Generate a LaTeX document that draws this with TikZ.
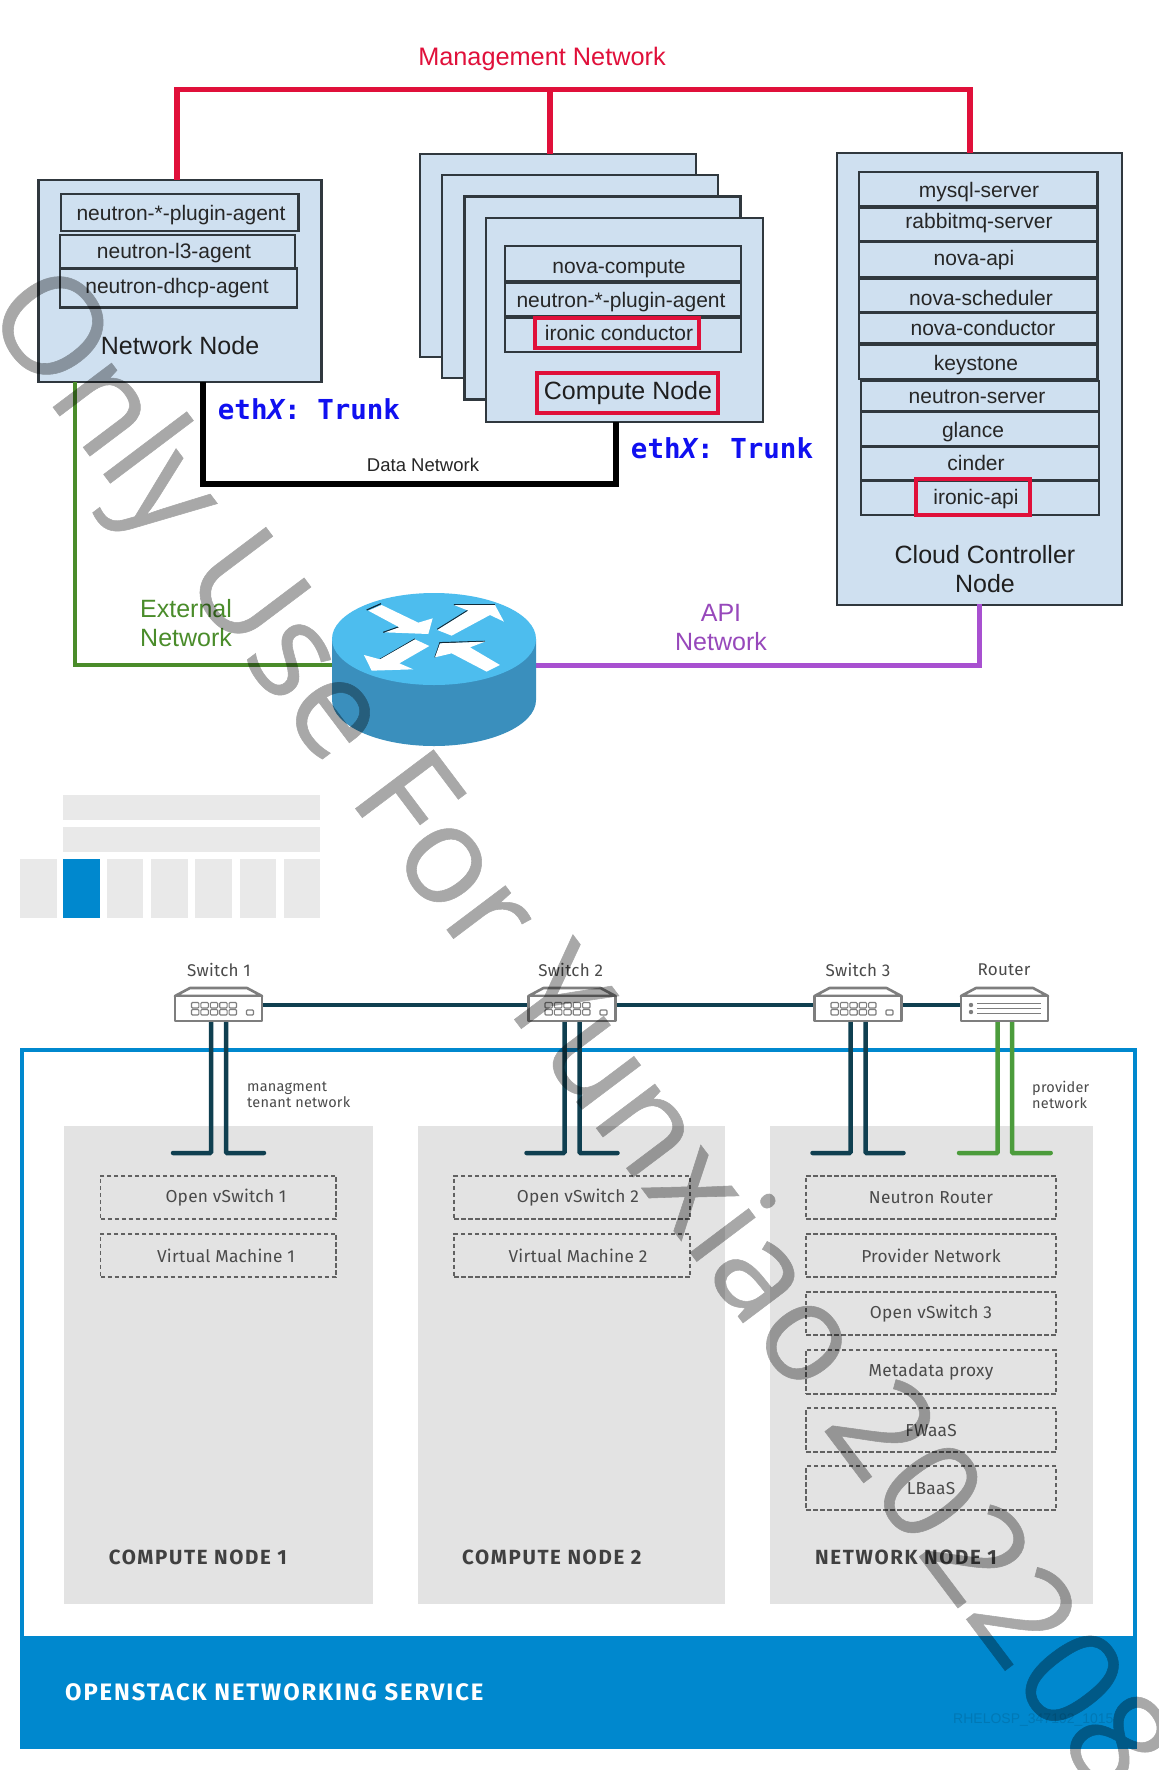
\documentclass[tikz,border=0pt]{standalone}
\usepackage{fontspec}
\setmainfont{Liberation Sans}
\newfontfamily\ofont[LetterSpace=1.5]{Fira Sans}
\newfontfamily\obfont[LetterSpace=8]{Fira Sans Medium}[BoldFont={Fira Sans Bold}]
\newfontfamily\mfont{DejaVu Sans Mono}
\newfontfamily\wfont[FakeBold=0.4]{Open Sans}
\usetikzlibrary{calc}
\definecolor{mgmtred}{HTML}{E0103A}
\definecolor{panelblue}{HTML}{CFE0F0}
\definecolor{edgegray}{HTML}{30383E}
\definecolor{trunkblue}{HTML}{1010F0}
\definecolor{extgreen}{HTML}{4A8C2A}
\definecolor{apipurple}{HTML}{A850D0}
\definecolor{rtop}{HTML}{4DBDEE}
\definecolor{rside}{HTML}{3A8FBD}
\definecolor{rhblue}{HTML}{0088CE}
\definecolor{gstrip}{HTML}{E9E9E9}
\definecolor{gpanel}{HTML}{E3E3E3}
\definecolor{darkteal}{HTML}{0F3F50}
\definecolor{swgray}{HTML}{7E7E7E}
\definecolor{txtgray}{HTML}{4A4A4A}
\definecolor{provgreen}{HTML}{4C9C3C}
\tikzset{
  x=1pt,y=-1pt,
  pbox/.style={draw=edgegray,line width=2.4pt,fill=panelblue},
  rowbox/.style={draw=edgegray,line width=2.4pt},
  redbox/.style={draw=mgmtred,line width=3.2pt},
  lab/.style={font=\fontsize{21}{24}\selectfont,text=black!85,inner sep=0pt},
  bigl/.style={font=\fontsize{25}{29}\selectfont,text=black!88,inner sep=0pt,align=center},
  trunk/.style={font=\mfont\bfseries\fontsize{27.5}{30}\selectfont,text=trunkblue,inner sep=0pt},
  mline/.style={draw=mgmtred,line width=5.5pt},
  dline/.style={draw=black,line width=5.5pt},
  gline/.style={draw=extgreen,line width=4.5pt},
  vline/.style={draw=apipurple,line width=5pt},
  tline/.style={draw=darkteal,line width=4.5pt,line cap=round,rounded corners=1pt},
  pline/.style={draw=provgreen,line width=4.5pt,line cap=round,rounded corners=1pt},
  swlab/.style={font=\ofont\fontsize{17}{20}\selectfont,text=txtgray,inner sep=0pt},
  dbox/.style={draw=black!62,dash pattern=on 4.5pt off 2.5pt,line width=1.9pt},
  dlab/.style={font=\ofont\fontsize{17.3}{20}\selectfont,text=txtgray,inner sep=0pt},
  nlab/.style={font=\obfont\bfseries\fontsize{20.5}{24}\selectfont,text=black!75,inner sep=0pt,anchor=west},
  swbody/.style={draw=swgray,line width=2.6pt,fill=white,line join=round},
  rarrow/.style={fill=white,draw=none},
}
\newcommand{\swbox}[1]{% centre x
  \draw[swbody] (#1-43.5,996) -- ++(15,-8) -- ++(57,0) -- ++(15,8) -- cycle;
  \draw[swbody] (#1-43.5,996) rectangle (#1+43.5,1021);
}
\newcommand{\swports}[1]{%
  \foreach \i in {0,1,2,3,4}{
    \draw[swgray,line width=1.1pt,fill=white,rounded corners=1pt] (#1-27+\i*9.4,1002.5) rectangle ++(7.4,5.5);
    \draw[swgray,line width=1.1pt,fill=white,rounded corners=1pt] (#1-27+\i*9.4,1009.5) rectangle ++(7.4,5.5);
  }
  \draw[swgray,line width=1.2pt,rounded corners=1pt] (#1+28,1010) rectangle ++(7,5);
}
\begin{document}
\begin{tikzpicture}
\useasboundingbox (0,0) rectangle (1159,1770);
\fill[white] (0,0) rectangle (1159,1770);

% ---------- top diagram boxes
\node[pbox,minimum width=283pt,minimum height=202pt,inner sep=0pt] (netnode) at (180,281) {};
\node[pbox,minimum width=276pt,minimum height=203pt,inner sep=0pt] (cn1) at (558,255.5) {};
\node[pbox,minimum width=276pt,minimum height=203pt,inner sep=0pt] (cn2) at (580,276.5) {};
\node[pbox,minimum width=276pt,minimum height=203pt,inner sep=0pt] (cn3) at (602.5,298) {};
\node[pbox,minimum width=277pt,minimum height=204pt,inner sep=0pt] (cn4) at (624.5,320) {};
\node[pbox,minimum width=285pt,minimum height=452pt,inner sep=0pt] (cloud) at (979.5,379) {};

\draw[mline] (177,180) |- (970,89.5) -- (970,153);
\draw[mline] (550,89.5) -- (550,154);

\node[font=\fontsize{25.3}{28}\selectfont,text=mgmtred,inner sep=0pt] (mgmtlab) at (542,59) {Management Network};

% network node rows
\node[rowbox,minimum width=237.6pt,minimum height=37pt,inner sep=0pt] (nn1) at (179.8,212.5) {};
\node[rowbox,minimum width=235pt,minimum height=33pt,inner sep=0pt] (nn2) at (177.5,251.5) {};
\node[rowbox,minimum width=237pt,minimum height=39pt,inner sep=0pt] (nn3) at (178.5,288) {};
\node[lab] at (181,215) {neutron-*-plugin-agent};
\node[lab] at (174,253) {neutron-l3-agent};
\node[lab] at (177,288) {neutron-dhcp-agent};
\node[bigl] at (180,346) {Network Node};

% compute node rows
\node[rowbox,minimum width=236pt,minimum height=35pt,inner sep=0pt] (cr1) at (623,263.5) {};
\node[rowbox,minimum width=236pt,minimum height=33.5pt,inner sep=0pt] (cr2) at (623,299.3) {};
\node[rowbox,minimum width=236pt,minimum height=34.5pt,inner sep=0pt] (cr3) at (623,334.7) {};
\node[redbox,minimum width=164pt,minimum height=30pt,inner sep=0pt] (cr3r) at (617,333) {};
\node[redbox,minimum width=181pt,minimum height=40pt,inner sep=0pt] (cnr) at (627.5,393) {};
\node[lab] at (619,269) {nova-compute};
\node[lab] at (621,302.5) {neutron-*-plugin-agent};
\node[lab] at (619,333) {ironic conductor};
\node[bigl] at (628,393.5) {Compute Node};

% cloud rows
\foreach \n/\cx/\wi/\ta/\tb/\tx/\ty/\lbl in {
 a/978.2/238.5/172/206/979/192/mysql-server,
 b/978.2/238.5/208/241/979/223/rabbitmq-server,
 c/978.2/238.5/242/277/974/260/nova-api,
 d/978.2/238.5/279/312/981/298/nova-scheduler,
 e/978.2/238.5/313/343/983/328/nova-conductor,
 f/978.2/238.5/345/379/976/365/keystone,
 g/980/238/381/411/977/396.5/neutron-server,
 h/980/238/412/446/973/432/glance,
 i/980/238/447/480/976/463/cinder,
 j/980/238/481/515/976/499.5/ironic-api}{
  \node[rowbox,minimum width=\wi pt,minimum height=\tb pt-\ta pt,inner sep=0pt] (cc\n) at (\cx,{(\ta+\tb)/2}) {};
  \node[lab] at (\tx,\ty) {\lbl};
}
\node[redbox,minimum width=114pt,minimum height=36pt,inner sep=0pt] (ccr) at (973,497) {};
\node[bigl] at (985,569) {Cloud Controller\\Node};

% data network
\draw[dline] (203,382) |- (616,484) -- (616,422);
\node[font=\fontsize{18.5}{22}\selectfont,text=black!85,inner sep=0pt] (dlabel) at (423,465) {Data Network};
\node[trunk] (tr1) at (309,409) {eth{\itshape X}: Trunk};
\node[trunk] (tr2) at (722,448) {eth{\itshape X}: Trunk};

% router
\coordinate (rl) at (333,665);
\coordinate (rr) at (535,665);
\draw[gline] (75,382) |- (rl);
\draw[vline] (979,604) |- (rr);
\fill[rside] (332,639) -- (332,700) arc[start angle=180,end angle=0,x radius=102,y radius=46] -- (536,639) -- cycle;
\fill[rtop] (434,639) ellipse[x radius=102,y radius=46];
\begin{scope}[shift={(300,570)},x=.3333pt,y=-.3333pt]
\draw[black!70!rside,line width=1.2pt] (200,120) -- (243,101) (250,187) -- (298,170) (412,178) -- (505,120) (462,104) -- (585,104) (240,268) -- (345,207) (405,262) -- (420,218) -- (555,214);
\fill[rarrow] (205,122) -- (245,105) -- (355,158) -- (398,145) -- (385,192) -- (255,187) -- (298,172) -- cycle;
\fill[rarrow] (412,180) -- (505,122) -- (462,105) -- (585,105) -- (612,155) -- (570,135) -- (455,197) -- cycle;
\fill[rarrow] (345,208) -- (388,228) -- (298,280) -- (340,298) -- (215,302) -- (192,255) -- (240,268) -- cycle;
\fill[rarrow] (600,285) -- (560,305) -- (455,250) -- (405,262) -- (420,220) -- (555,215) -- (510,232) -- cycle;
\end{scope}
\node[font=\fontsize{25}{29}\selectfont,text=extgreen,align=left,anchor=west,inner sep=0pt] (extlab) at (140,623.5) {External\\Network};
\node[font=\fontsize{25}{29}\selectfont,text=apipurple!90!black,align=center,inner sep=0pt] (apilab) at (721,627.5) {API\\Network};

% ---------- lower diagram: strips
\fill[gstrip] (63,795) rectangle (320,820);
\fill[gstrip] (63,827) rectangle (320,851.5);
\fill[gstrip] (20,859) rectangle (57,918);
\fill[rhblue] (63,859) rectangle (100,918);
\fill[gstrip] (107,859) rectangle (143,918);
\fill[gstrip] (151,859) rectangle (188,918);
\fill[gstrip] (195,859) rectangle (232,918);
\fill[gstrip] (239.5,859) rectangle (276,918);
\fill[gstrip] (284,859) rectangle (320,918);

% panels
\fill[gpanel] (64,1126) rectangle (372.5,1603.5);
\fill[gpanel] (417.6,1126) rectangle (725,1603.5);
\fill[gpanel] (770,1126) rectangle (1092.5,1603.5);
% frame
\draw[rhblue,line width=4.5pt] (22,1050) rectangle (1135,1640);
\fill[rhblue] (20,1636) rectangle (1137,1749);

% connectors
\draw[darkteal,line width=4.5pt] (262,1005) -- (961,1005);
\foreach \c in {218.5,572,858}{
  \draw[tline] (\c-7.5,1021) -- (\c-7.5,1153) -- (\c-45.5,1153);
  \draw[tline] (\c+7.5,1021) -- (\c+7.5,1153) -- (\c+45.5,1153);
}
\draw[pline] (997.7,1021) -- (997.7,1153) -- (959,1153);
\draw[pline] (1012,1021) -- (1012,1153) -- (1050.7,1153);

% switches
\swbox{218.5}\swports{218.5}
\swbox{572}\swports{572}
\swbox{858}\swports{858}
\swbox{1004.5}
\foreach \yy in {1003,1008,1013}{\draw[swgray,line width=1.4pt] (977,\yy+.5) -- (1041,\yy+.5);}
\fill[swgray] (971,1005) circle (2.2pt) (971,1012) circle (2.2pt);

\node[swlab] at (219,970) {Switch 1};
\node[swlab] at (570.6,970) {Switch 2};
\node[swlab] at (858,970) {Switch 3};
\node[swlab] at (1004,970) {Router};
\node[swlab,font=\ofont\fontsize{14.5}{16}\selectfont,align=left,anchor=west] at (247,1095) {managment\\tenant network};
\node[swlab,font=\ofont\fontsize{14.5}{16}\selectfont,align=left,anchor=west] at (1032,1095) {provider\\network};

% dashed boxes
\foreach \n/\xa/\xb/\ya/\yb/\tx/\lbl in {
 p/100.5/336/1175.6/1219.4/226/Open vSwitch 1,
 q/100.5/336/1233.6/1277.4/226/Virtual Machine 1,
 r/454/689.6/1175.6/1219.4/578/Open vSwitch 2,
 s/454/689.6/1233.6/1277.4/578/Virtual Machine 2,
 t/806/1056/1175.6/1219.4/931/Neutron Router,
 u/806/1056/1233.6/1277.4/931/Provider Network,
 v/806/1056/1291.6/1335.4/931/Open vSwitch 3,
 w/806/1056/1349.6/1394/931/Metadata proxy,
 x/806/1056/1408/1452/931/FWaaS,
 y/806/1056/1466/1510/931/LBaaS}{
  \node[dbox,minimum width=\xb pt-\xa pt,minimum height=\yb pt-\ya pt,inner sep=0pt] (db\n) at ({(\xa+\xb)/2},{(\ya+\yb)/2}) {};
  \node[dlab] at (\tx,{(\ya+\yb)/2+.5}) {\lbl};
}
\node[nlab] at (108.6,1557.7) {COMPUTE NODE 1};
\node[nlab] at (462,1557.7) {COMPUTE NODE 2};
\node[nlab] at (815,1557.7) {NETWORK NODE 1};
\node[nlab,text=white,font=\obfont\bfseries\fontsize{23.8}{26}\selectfont] at (65,1692) {OPENSTACK NETWORKING SERVICE};
\node[font=\fontsize{14}{16}\selectfont,text=black!12!rhblue,inner sep=0pt,anchor=west] at (953,1720) {RHELOSP\_347192\_1015};

% watermark
\begin{scope}[transparency group,opacity=.34]
\node[font=\wfont\fontsize{137}{150}\selectfont,text=black,rotate=-53,anchor=west,inner sep=0pt] (wm) at (10,291) {Only Use For Yunxiao 202208};
\end{scope}
\end{tikzpicture}
\end{document}
